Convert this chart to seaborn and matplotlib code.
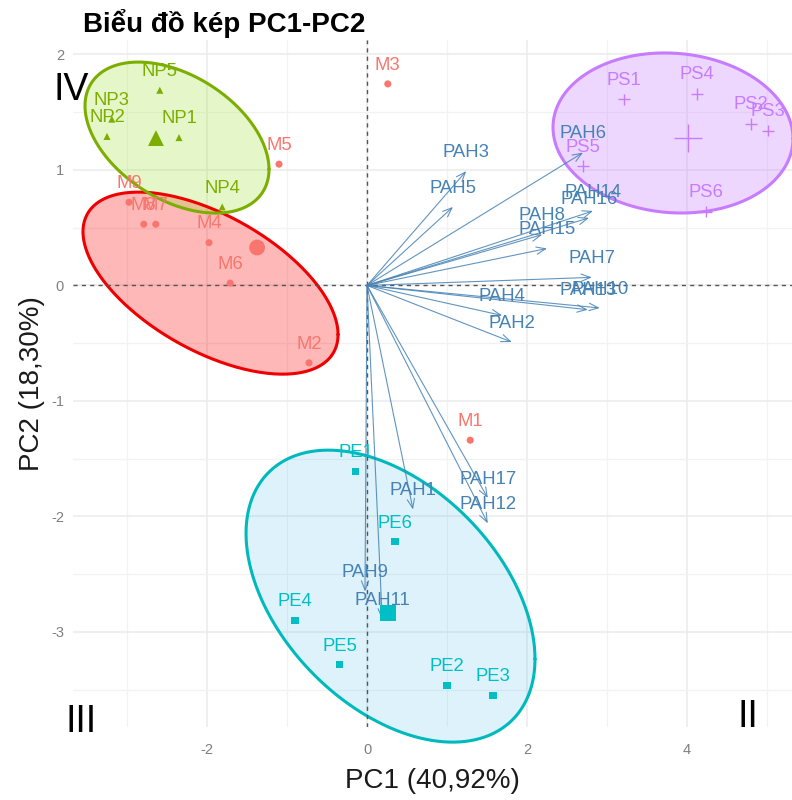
import numpy as np
import pandas as pd
import matplotlib
matplotlib.use("Agg")
import matplotlib.pyplot as plt
import seaborn as sns

# ---------------- data ----------------
m_names = ["M1", "M2", "M3", "M4", "M5", "M6", "M7", "M8", "M9"]
m_pc1 = [1.29, -0.725, 0.26, -1.975, -1.10, -1.71, -2.64, -2.79, -2.975]
m_pc2 = [-1.34, -0.67, 1.745, 0.37, 1.05, 0.02, 0.53, 0.53, 0.72]

np_names = ["NP1", "NP2", "NP3", "NP4", "NP5"]
np_pc1 = [-2.35, -3.25, -3.19, -1.81, -2.59]
np_pc2 = [1.28, 1.29, 1.44, 0.68, 1.69]

pe_names = ["PE1", "PE2", "PE3", "PE4", "PE5", "PE6"]
pe_pc1 = [-0.14, 1.0, 1.575, -0.9, -0.34, 0.35]
pe_pc2 = [-1.61, -3.46, -3.55, -2.90, -3.285, -2.22]

ps_names = ["PS1", "PS2", "PS3", "PS4", "PS5", "PS6"]
ps_pc1 = [3.21, 4.8, 5.01, 4.125, 2.7, 4.24]
ps_pc2 = [1.61, 1.40, 1.34, 1.66, 1.035, 0.64]

pah_names = ["PAH1", "PAH2", "PAH3", "PAH4", "PAH5", "PAH6", "PAH7", "PAH8", "PAH9",
             "PAH10", "PAH11", "PAH12", "PAH13", "PAH14", "PAH15", "PAH16", "PAH17"]
pah_pc1 = [0.575, 1.81, 1.24, 1.69, 1.075, 2.7, 2.81, 2.19, -0.025,
           2.91, 0.19, 1.51, 2.76, 2.825, 2.25, 2.775, 1.51]
pah_pc2 = [-1.94, -0.49, 0.99, -0.26, 0.68, 1.15, 0.07, 0.44, -2.65,
           -0.195, -2.89, -2.06, -0.21, 0.645, 0.32, 0.585, -1.84]

# group ellipses (centre, spread along PC1 / PC2, correlation)
ell_group = ["M", "NP", "PE", "PS"]
ell_cx = [-1.956, -2.375, 0.294, 3.825]
ell_cy = [0.02, 1.28, -2.69, 1.32]
ell_sx = [1.594, 1.15, 1.806, 1.5]
ell_sy = [0.788, 0.654, 1.264, 0.693]
ell_r = [-0.565, -0.42, -0.43, -0.07]

title = "Biểu đồ kép PC1-PC2"
xlab = "PC1 (40,92%)"
ylab = "PC2 (18,30%)"
quad_labels = ["IV", "III", "II"]

# ---------------- styling ----------------
sns.set_theme(style="white")
plt.rcParams["font.family"] = ["Liberation Sans", "DejaVu Sans"]
plt.rcParams["axes.unicode_minus"] = False

pt_col = {"M": "#F8766D", "NP": "#7CAE00", "PE": "#00BFC4", "PS": "#C77CFF"}
edge_col = {"M": "#EE0000", "NP": "#7CAE00", "PE": "#00B9BD", "PS": "#C77CFF"}
fill_col = {"M": "#FF0000", "NP": "#9BE22B", "PE": "#3AB6E8", "PS": "#C77CFF"}
fill_alpha = {"M": 0.28, "NP": 0.25, "PE": 0.17, "PS": 0.30}
var_col = "#4682B4"

ind = pd.DataFrame({
    "name": m_names + np_names + pe_names + ps_names,
    "PC1": m_pc1 + np_pc1 + pe_pc1 + ps_pc1,
    "PC2": m_pc2 + np_pc2 + pe_pc2 + ps_pc2,
    "group": ["M"] * len(m_names) + ["NP"] * len(np_names) + ["PE"] * len(pe_names) + ["PS"] * len(ps_names),
})
cent = ind.groupby("group", as_index=False)[["PC1", "PC2"]].mean()

fig = plt.figure(figsize=(7.92, 8.0), dpi=100)
ax = fig.add_axes([73 / 792, 1 - 727 / 800, 1 - 73 / 792, (727 - 40) / 800])
ax.set_xlim(-3.675, 5.3125)
ax.set_ylim(-3.823, 2.125)

# grid
ax.set_xticks([-2, 0, 2, 4])
ax.set_xticks([-3, -1, 1, 3, 5], minor=True)
ax.set_yticks([-3, -2, -1, 0, 1, 2])
ax.set_yticks([-3.5, -2.5, -1.5, -0.5, 0.5, 1.5], minor=True)
ax.grid(which="major", color="#EBEBEB", lw=1.1, zorder=0)
ax.grid(which="minor", color="#F2F2F2", lw=0.9, zorder=0)
ax.set_axisbelow(True)
for s in ax.spines.values():
    s.set_visible(False)
ax.tick_params(axis="both", which="major", length=3.5, width=0.9, color="#8a8a8a",
               labelcolor="#7f7f7f", labelsize=10.5)
ax.tick_params(axis="x", which="major", pad=8)
ax.tick_params(axis="y", which="major", pad=3)
ax.tick_params(which="minor", length=0)

# ellipses
t = np.linspace(0, 2 * np.pi, 300)
for g, cx, cy, sx, sy, r in zip(ell_group, ell_cx, ell_cy, ell_sx, ell_sy, ell_r):
    ex = cx + sx * np.cos(t)
    ey = cy + sy * (r * np.cos(t) + np.sqrt(1 - r * r) * np.sin(t))
    ax.fill(ex, ey, color=fill_col[g], alpha=fill_alpha[g], lw=0, zorder=1, clip_on=False)
for g, cx, cy, sx, sy, r in zip(ell_group, ell_cx, ell_cy, ell_sx, ell_sy, ell_r):
    ex = cx + sx * np.cos(t)
    ey = cy + sy * (r * np.cos(t) + np.sqrt(1 - r * r) * np.sin(t))
    ax.plot(ex, ey, color=edge_col[g], lw=2.2, zorder=2, clip_on=False)

# reference lines
ax.axhline(0, color="#555555", lw=1.0, ls=(0, (3, 3)), zorder=2.5)
ax.axvline(0, color="#555555", lw=1.0, ls=(0, (3, 3)), zorder=2.5)

# individuals
filled = ind[ind["group"] != "PS"]
sns.scatterplot(data=filled, x="PC1", y="PC2", hue="group", style="group",
                markers={"M": "o", "NP": "^", "PE": "s"}, palette=pt_col,
                s=26, linewidth=0, legend=False, ax=ax, zorder=4)
sns.scatterplot(data=ind[ind["group"] == "PS"], x="PC1", y="PC2", hue="group",
                marker="+", palette=pt_col, s=70, linewidth=1.0, legend=False, ax=ax, zorder=4)
cent_f = cent[cent["group"] != "PS"]
sns.scatterplot(data=cent_f, x="PC1", y="PC2", hue="group", style="group",
                markers={"M": "o", "NP": "^", "PE": "s"}, palette=pt_col,
                s=130, linewidth=0, legend=False, ax=ax, zorder=4)
sns.scatterplot(data=cent[cent["group"] == "PS"], x="PC1", y="PC2", hue="group",
                marker="+", palette=pt_col, s=420, linewidth=1.0, legend=False, ax=ax, zorder=4)

for _, row in ind.iterrows():
    ax.annotate(row["name"], (row["PC1"], row["PC2"]), xytext=(0, 13.5),
                textcoords="offset points", ha="center", va="center",
                color=pt_col[row["group"]], fontsize=13.3, zorder=5)

# variables (arrows)
for name, x, y in zip(pah_names, pah_pc1, pah_pc2):
    ax.annotate("", xy=(x, y), xytext=(0, 0),
                arrowprops=dict(arrowstyle="->,head_length=0.55,head_width=0.22",
                                color=var_col, lw=0.8, alpha=0.85, shrinkA=0, shrinkB=0),
                zorder=3)
    ax.annotate(name, (x, y), xytext=(0, 13.5), textcoords="offset points",
                ha="center", va="center", color=var_col, fontsize=13.3, zorder=3.5)

ax.set_xlabel(xlab, fontsize=20, color="#1a1a1a", labelpad=8)
ax.set_ylabel(ylab, fontsize=20, color="#1a1a1a", labelpad=4)

fig.text(83 / 792, 1 - 32 / 800, title, fontsize=20, fontweight="bold",
         ha="left", va="baseline", color="black")
quad_pos = [(71, 90), (81, 722), (748, 717)]
for lab, (px, py) in zip(quad_labels, quad_pos):
    fig.text(px / 792, 1 - py / 800, lab, fontsize=27, ha="center", va="center",
             color="black", zorder=10)

fig.savefig("out.png", dpi=100)
